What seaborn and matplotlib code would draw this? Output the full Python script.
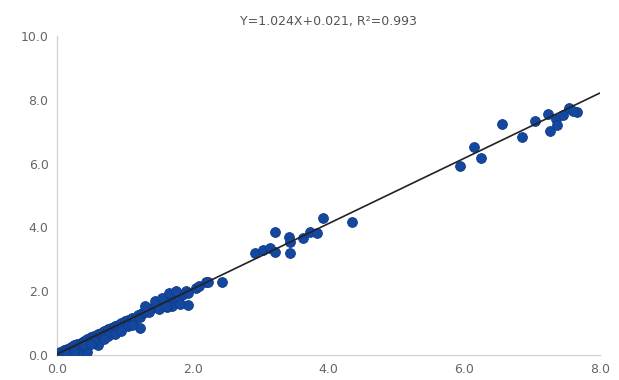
import numpy as np
import pandas as pd
import matplotlib
matplotlib.use("Agg")
import matplotlib.pyplot as plt
import seaborn as sns

x_vals = [
    0.05, 0.08, 0.10, 0.12, 0.15, 0.18, 0.20, 0.22, 0.25, 0.28,
    0.30, 0.32, 0.35, 0.38, 0.40, 0.42, 0.45, 0.48, 0.50, 0.52,
    0.55, 0.58, 0.60, 0.62, 0.65, 0.68, 0.70, 0.72, 0.75, 0.78,
    0.80, 0.83, 0.85, 0.88, 0.90, 0.93, 0.95, 0.98, 1.00, 1.03,
    1.05, 1.08, 1.10, 1.15, 1.20, 1.22, 1.25, 1.30, 1.35, 1.40,
    1.45, 1.50, 1.55, 1.58, 1.60, 1.62, 1.65, 1.70, 1.72, 1.75,
    1.80, 1.85, 1.90, 1.93, 2.05, 2.10, 2.20, 2.22, 2.43,
    0.10, 0.20, 0.30, 0.35, 0.45, 0.60, 0.90, 1.22, 1.35, 1.50,
    1.70, 1.93, 0.40, 0.55, 0.75, 1.05, 1.62, 1.78, 0.15, 0.25,
    1.30, 1.45, 1.55, 1.65, 1.75, 1.82, 1.60, 0.85, 0.95, 0.70,
    0.50, 1.10,
    2.92, 3.04, 3.14, 3.22, 3.22, 3.42, 3.44, 3.44, 3.63, 3.73,
    3.83, 3.92, 4.35,
    5.94, 6.15, 6.25, 6.56, 6.86, 7.04, 7.24, 7.26, 7.36, 7.37,
    7.46, 7.55, 7.67, 7.61,
]
y_vals = [
    0.08, 0.05, 0.15, 0.10, 0.20, 0.15, 0.25, 0.18, 0.30, 0.25,
    0.35, 0.28, 0.38, 0.40, 0.45, 0.38, 0.50, 0.45, 0.55, 0.50,
    0.60, 0.55, 0.65, 0.60, 0.70, 0.62, 0.75, 0.70, 0.80, 0.72,
    0.85, 0.80, 0.90, 0.85, 0.95, 0.88, 1.00, 0.92, 1.05, 1.00,
    1.10, 1.05, 1.15, 1.12, 1.25, 1.20, 1.30, 1.35, 1.40, 1.48,
    1.55, 1.58, 1.65, 1.60, 1.70, 1.65, 1.75, 1.80, 1.72, 1.85,
    1.90, 1.88, 2.00, 1.95, 2.10, 2.15, 2.30, 2.28, 2.30,
    0.02, 0.05, 0.12, 0.05, 0.10, 0.31, 0.75, 0.85, 1.35, 1.45,
    1.55, 1.57, 0.30, 0.45, 0.60, 0.90, 1.50, 1.70, 0.02, 0.10,
    1.55, 1.70, 1.80, 1.95, 2.00, 1.60, 1.55, 0.65, 0.75, 0.50,
    0.35, 0.95,
    3.21, 3.30, 3.36, 3.24, 3.84, 3.71, 3.55, 3.21, 3.68, 3.84,
    3.81, 4.31, 4.18,
    5.91, 6.51, 6.19, 7.23, 6.82, 7.33, 7.55, 7.01, 7.39, 7.20,
    7.52, 7.74, 7.61, 7.64,
]
slope, intercept, r2 = 1.024, 0.021, 0.993
line_x = [0.0, 8.0]

df = pd.DataFrame({"x": x_vals, "y": y_vals})
fit = pd.DataFrame({"x": line_x, "y": [slope * v + intercept for v in line_x]})

sns.set_style("white")
fig, ax = plt.subplots(figsize=(6.19, 3.8), dpi=100)
fig.subplots_adjust(left=0.092, right=0.969, top=0.905, bottom=0.066)

sns.scatterplot(data=df, x="x", y="y", ax=ax, color="#1448a0", s=50,
                edgecolor="#0f3c88", linewidth=0.6, zorder=3)
sns.lineplot(data=fit, x="x", y="y", ax=ax, color="#222222", linewidth=1.2, zorder=4)

ax.set_xlim(0, 8)
ax.set_ylim(0, 10)
ax.set_xticks(np.arange(0, 8.1, 2))
ax.set_yticks(np.arange(0, 10.1, 2))
ax.set_xticklabels([f"{v:.1f}" for v in np.arange(0, 8.1, 2)])
ax.set_yticklabels([f"{v:.1f}" for v in np.arange(0, 10.1, 2)])
ax.tick_params(colors="#666666", labelsize=9, length=0, pad=6)
ax.set_xlabel("")
ax.set_ylabel("")
for side in ["top", "right"]:
    ax.spines[side].set_visible(False)
for side in ["left", "bottom"]:
    ax.spines[side].set_color("#d4d4d4")
    ax.spines[side].set_linewidth(1.0)

ax.set_title(f"Y={slope}X+{intercept}, R²={r2}", fontsize=9, color="#555555", pad=8)

fig.savefig("out.png", dpi=100)
